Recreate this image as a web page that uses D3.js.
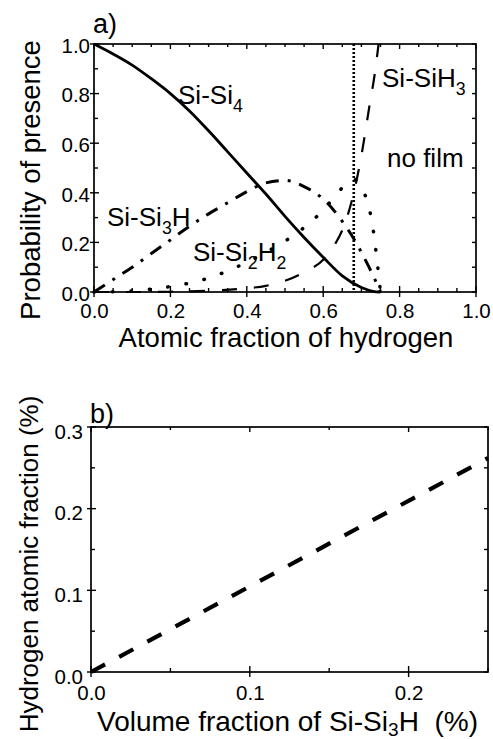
<!DOCTYPE html>
<html>
<head>
<meta charset="utf-8">
<script src="https://cdn.jsdelivr.net/npm/d3@7"></script>
<style>
  html, body { margin: 0; padding: 0; background: #fff; }
  svg { display: block; }
  text { font-family: "Liberation Sans", Arial, Helvetica, sans-serif; fill: #000; }
</style>
</head>
<body>
<svg id="chart" width="493" height="739"></svg>
<script>
// Panel a) bond-configuration probabilities vs atomic fraction of hydrogen
const siSi4X   = [0, 0.05, 0.10, 0.15, 0.20, 0.25, 0.30, 0.35, 0.40, 0.45, 0.50, 0.55, 0.60, 0.65, 0.70, 0.73, 0.75];
const siSi4Y   = [1.0, 0.96, 0.915, 0.86, 0.80, 0.73, 0.65, 0.565, 0.48, 0.395, 0.305, 0.22, 0.14, 0.065, 0.018, 0.003, 0.0];

const siSi3HX  = [0, 0.05, 0.10, 0.15, 0.20, 0.25, 0.30, 0.35, 0.40, 0.45, 0.50, 0.55, 0.60, 0.65, 0.68, 0.70, 0.72, 0.74, 0.75];
const siSi3HY  = [0, 0.05, 0.10, 0.155, 0.21, 0.265, 0.315, 0.36, 0.405, 0.44, 0.45, 0.425, 0.375, 0.285, 0.215, 0.16, 0.10, 0.035, 0.0];

const siSi2H2X = [0, 0.05, 0.10, 0.15, 0.20, 0.25, 0.30, 0.35, 0.40, 0.45, 0.50, 0.55, 0.60, 0.65, 0.68, 0.70, 0.72, 0.73, 0.74, 0.75];
const siSi2H2Y = [0, 0.001, 0.004, 0.012, 0.022, 0.036, 0.056, 0.085, 0.12, 0.16, 0.205, 0.26, 0.33, 0.42, 0.455, 0.42, 0.34, 0.26, 0.14, 0.0];

const siSiH3X  = [0, 0.10, 0.20, 0.30, 0.40, 0.45, 0.50, 0.55, 0.60, 0.63, 0.66, 0.68, 0.70, 0.72, 0.735, 0.745];
const siSiH3Y  = [0, 0, 0.001, 0.005, 0.015, 0.025, 0.045, 0.08, 0.13, 0.19, 0.29, 0.40, 0.55, 0.74, 0.88, 1.0];

const filmLimit = 0.68;   // boundary of the "no film" region

const aXTicks = [0, 0.2, 0.4, 0.6, 0.8, 1.0];
const aYTicks = [0, 0.2, 0.4, 0.6, 0.8, 1.0];

// Panel b) hydrogen atomic fraction vs volume fraction of Si-Si3H
const volumeFraction   = [0, 0.25];
const hydrogenFraction = [0, 0.262];
const bXTicks = [0, 0.1, 0.2];
const bYTicks = [0, 0.1, 0.2, 0.3];

const svg = d3.select("#chart");
svg.append("rect").attr("width", 493).attr("height", 739).attr("fill", "#fff");

const fmt = d3.format(".1f");

function drawFrame(g, x, y, o) {
  const [x0, x1] = x.range(), [y0, y1] = y.range();
  g.append("rect")
    .attr("x", x0).attr("y", y1).attr("width", x1 - x0).attr("height", y0 - y1)
    .attr("fill", "none").attr("stroke", "#000").attr("stroke-width", 1.7);

  const tick = (x1_, y1_, x2_, y2_) => g.append("line")
    .attr("x1", x1_).attr("y1", y1_).attr("x2", x2_).attr("y2", y2_)
    .attr("stroke", "#000").attr("stroke-width", 1.4);

  // bottom & top
  x.ticks(o.xMinorCount).forEach(v => {
    const isMajor = o.xMajor.some(m => Math.abs(m - v) < 1e-9);
    const px = x(v);
    if (isMajor) { tick(px, y0 - 6, px, y0 + 5); tick(px, y1, px, y1 + 5); }
    else { tick(px, y0, px, y0 - 4); tick(px, y1, px, y1 + 3); }
  });
  // left & right
  y.ticks(o.yMinorCount).forEach(v => {
    const isMajor = o.yMajor.some(m => Math.abs(m - v) < 1e-9);
    const py = y(v);
    if (isMajor) { tick(x0 - 4, py, x0 + 5, py); }
    else { tick(x0, py, x0 + 4, py); }
    tick(x1, py, x1 - 4, py);
  });

  // tick labels
  const xa = g.append("g").attr("transform", `translate(0,${y0})`)
    .call(d3.axisBottom(x).tickValues(o.xMajor).tickFormat(fmt).tickSize(0).tickPadding(o.xPad));
  const ya = g.append("g").attr("transform", `translate(${x0},0)`)
    .call(d3.axisLeft(y).tickValues(o.yMajor).tickFormat(fmt).tickSize(0).tickPadding(o.yPad));
  [xa, ya].forEach(a => {
    a.select(".domain").remove();
    a.selectAll("text").attr("font-size", 20.5).attr("fill", "#000")
      .style("font-family", '"Liberation Sans", Arial, sans-serif');
  });
  ya.selectAll("text").attr("dy", o.yDy);
}

/* ---------------- panel a ---------------- */
const xA = d3.scaleLinear().domain([0, 1]).range([94, 476]);
const yA = d3.scaleLinear().domain([0, 1]).range([292, 44]);
const gA = svg.append("g");

drawFrame(gA, xA, yA, { xMajor: aXTicks, yMajor: aYTicks, xMinorCount: 25, yMinorCount: 10, xPad: 11, yPad: 4, yDy: "0.4em" });

const lineA = d3.line().x(d => xA(d[0])).y(d => yA(d[1])).curve(d3.curveMonotoneX);
const zip = (xs, ys) => xs.map((v, i) => [v, ys[i]]);

// "no film" boundary
gA.append("line")
  .attr("x1", xA(filmLimit)).attr("x2", xA(filmLimit))
  .attr("y1", yA(1)).attr("y2", yA(0))
  .attr("stroke", "#000").attr("stroke-width", 2.6).attr("stroke-dasharray", "2,2");

gA.append("path").datum(zip(siSiH3X, siSiH3Y)).attr("d", lineA)
  .attr("fill", "none").attr("stroke", "#000").attr("stroke-width", 2.2).attr("stroke-dasharray", "15,17");
gA.append("path").datum(zip(siSi2H2X, siSi2H2Y)).attr("d", lineA)
  .attr("fill", "none").attr("stroke", "#000").attr("stroke-width", 3.5)
  .attr("stroke-linecap", "round").attr("stroke-dasharray", "0.5,18");
gA.append("path").datum(zip(siSi3HX, siSi3HY)).attr("d", lineA)
  .attr("fill", "none").attr("stroke", "#000").attr("stroke-width", 3)
  .attr("stroke-dasharray", "13,9,3,9");
gA.append("path").datum(zip(siSi4X, siSi4Y)).attr("d", lineA)
  .attr("fill", "none").attr("stroke", "#000").attr("stroke-width", 2.8);

function label(g, x, y, parts, size, subShift) {
  const t = g.append("text").attr("x", x).attr("y", y).attr("font-size", size);
  let shift = 0;
  parts.forEach(p => {
    const sub = typeof p === "object";
    const s = t.append("tspan").text(sub ? p.sub : p);
    const target = sub ? (subShift || 8) : 0;
    if (target !== shift) { s.attr("dy", target - shift); shift = target; }
    if (sub) s.attr("font-size", size * 0.68);
  });
  return t;
}

label(gA, xA(0.22), yA(0.759), ["Si-Si", { sub: "4" }], 26);
label(gA, xA(0.754), yA(0.827), ["Si-SiH", { sub: "3" }], 26);
label(gA, xA(0.767), yA(0.506), ["no film"], 26);
label(gA, xA(0.034), yA(0.265), ["Si-Si", { sub: "3" }, "H"], 26);
label(gA, xA(0.259), yA(0.124), ["Si-Si", { sub: "2" }, "H", { sub: "2" }], 26);

svg.append("text").attr("x", 93).attr("y", 33).attr("font-size", 27).text("a)");
svg.append("text").attr("x", 286).attr("y", 347).attr("font-size", 27.5)
  .attr("text-anchor", "middle").text("Atomic fraction of hydrogen");
svg.append("text").attr("transform", "translate(40,180) rotate(-90)").attr("font-size", 27.5)
  .attr("text-anchor", "middle").text("Probability of presence");

/* ---------------- panel b ---------------- */
const xB = d3.scaleLinear().domain([0, 0.25]).range([91, 488]);
const yB = d3.scaleLinear().domain([0, 0.3]).range([672, 427]);
const gB = svg.append("g");

drawFrame(gB, xB, yB, { xMajor: bXTicks, yMajor: bYTicks, xMinorCount: 5, yMinorCount: 6, xPad: 13, yPad: 8, yDy: "0.55em" });

const lineB = d3.line().x(d => xB(d[0])).y(d => yB(d[1]));
gB.append("path").datum(zip(volumeFraction, hydrogenFraction)).attr("d", lineB)
  .attr("fill", "none").attr("stroke", "#000").attr("stroke-width", 4.2).attr("stroke-dasharray", "16,16");

svg.append("text").attr("x", 90).attr("y", 423).attr("font-size", 27).text("b)");
label(svg, 97, 731, ["Volume fraction of Si-Si", { sub: "3" }, "H\u00a0\u00a0(%)"], 28, 5);
svg.append("text").attr("transform", "translate(38,564) rotate(-90)").attr("font-size", 26)
  .attr("text-anchor", "middle").text("Hydrogen atomic fraction (%)");
</script>
</body>
</html>
